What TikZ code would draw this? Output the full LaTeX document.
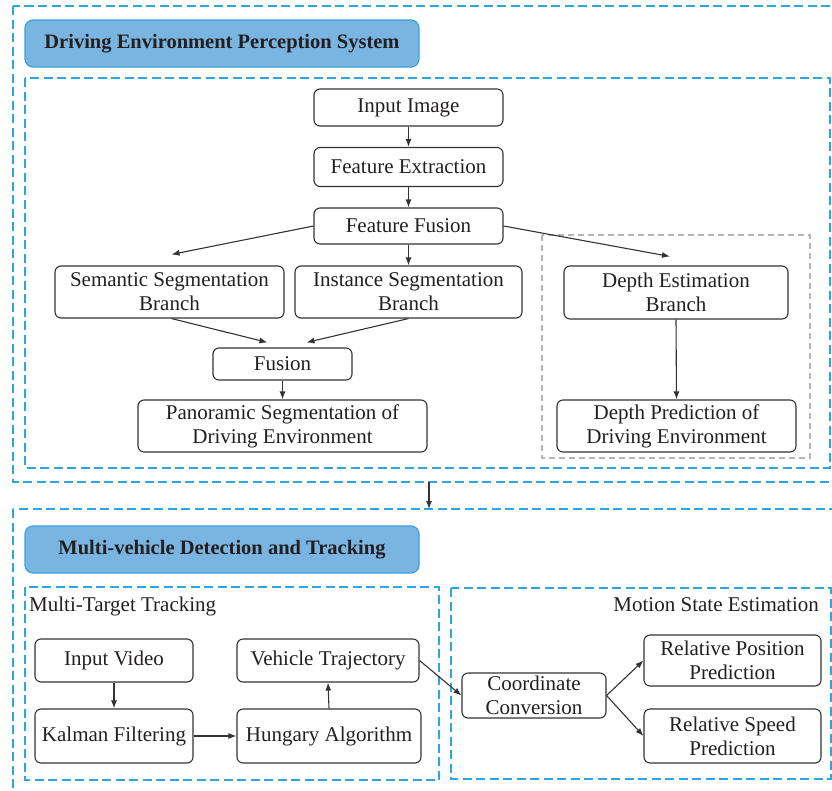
\documentclass[tikz,border=0pt]{standalone}
\usepackage{fontspec}
\setmainfont{Liberation Serif}
\usetikzlibrary{arrows.meta,positioning}
\definecolor{framecyan}{HTML}{2BA6E1}
\definecolor{titlefill}{HTML}{7AB5E2}
\definecolor{titleedge}{HTML}{3AA0DC}
\definecolor{boxedge}{HTML}{333333}
\definecolor{inktext}{HTML}{231F20}
\definecolor{graydash}{HTML}{B5B5B5}
\tikzset{
      procbox/.style={
        rounded corners=6pt,
        draw=boxedge,
        line width=1.1pt,
        align=center,
        inner sep=0pt,
        text=inktext,
        font=\fontsize{21}{24}\selectfont
      },
      titlebox/.style={
        rounded corners=8pt,
        draw=titleedge,
        line width=1.2pt,
        fill=titlefill,
        minimum width=394pt,
        minimum height=47pt,
        inner sep=0pt,
        text=inktext,
        font=\fontsize{20.5}{24}\selectfont\bfseries
      },
      regionbox/.style={
        draw=framecyan,
        line width=1.3pt,
        dash pattern=on 9pt off 4.5pt
      },
      depthbox/.style={
        draw=graydash,
        line width=1.1pt,
        dash pattern=on 6pt off 4pt
      },
      regionlabel/.style={
        inner sep=0pt,
        text=inktext,
        font=\fontsize{21}{24}\selectfont
      },
      arr/.style={
        -{Latex[length=8pt,width=6pt]},
        line width=1.1pt,
        draw=boxedge
      }
    }

\begin{document}
\begin{tikzpicture}[x=1pt,y=-1pt]
    \useasboundingbox (0,0) rectangle (832,790);
    \begin{scope}
    \clip (0,0) rectangle (832,790);
    \draw[regionbox] (13,6) rectangle (850,482);
    \draw[regionbox] (25,78) rectangle (830,468);
    \draw[regionbox] (13,509) rectangle (850,800);
    \draw[regionbox] (25,587) rectangle (439,780);
    \draw[regionbox] (451,588) rectangle (831,779);
    \draw[depthbox] (542,235) rectangle (810,458);
    \end{scope}

    \node[titlebox] (t1) at (222,43.5) {Driving Environment Perception System};
    \node[titlebox] (t2) at (222,549.5) {Multi-vehicle Detection and Tracking};

    \node[procbox, minimum width=189pt, minimum height=37pt] (img) at (408.5,107.5) {Input Image};
    \node[procbox, minimum width=189pt, minimum height=39pt] (fe) at (408.5,167) {Feature Extraction};
    \node[procbox, minimum width=189pt, minimum height=36pt] (ff) at (408.5,226) {Feature Fusion};
    \node[procbox, minimum width=229pt, minimum height=52pt] (sem) at (169.5,292) {Semantic Segmentation\\Branch};
    \node[procbox, minimum width=227pt, minimum height=52pt] (ins) at (408.5,292) {Instance Segmentation\\Branch};
    \node[procbox, minimum width=224pt, minimum height=53pt] (dep) at (676,292.5) {Depth Estimation\\Branch};
    \node[procbox, minimum width=139pt, minimum height=32pt] (fus) at (282.5,364) {Fusion};
    \node[procbox, minimum width=289pt, minimum height=52pt] (pan) at (282.5,426) {Panoramic Segmentation of\\Driving Environment};
    \node[procbox, minimum width=239pt, minimum height=52pt] (dpr) at (676.5,426) {Depth Prediction of\\Driving Environment};

    \node[regionlabel, anchor=west] (mtt) at (29,606) {Multi-Target Tracking};
    \node[regionlabel, anchor=east] (mse) at (819,605) {Motion State Estimation};

    \node[procbox, minimum width=158pt, minimum height=43pt] (vid) at (114,660.5) {Input Video};
    \node[procbox, minimum width=158pt, minimum height=54pt] (kal) at (114,736) {Kalman Filtering};
    \node[procbox, minimum width=182pt, minimum height=43pt] (trj) at (328,660.5) {Vehicle Trajectory};
    \node[procbox, minimum width=184pt, minimum height=54pt] (hun) at (329,736) {Hungary Algorithm};
    \node[procbox, minimum width=144pt, minimum height=45pt] (coc) at (534,695.5) {Coordinate\\Conversion};
    \node[procbox, minimum width=177pt, minimum height=51pt] (rpp) at (732.5,660.5) {Relative Position\\Prediction};
    \node[procbox, minimum width=177pt, minimum height=54pt] (rsp) at (732.5,736) {Relative Speed\\Prediction};

    \coordinate (sec1) at (429,482);
    \coordinate (sec2) at (429,509);

    \draw[arr] (img.south) -- (fe.north);
    \draw[arr] (fe.south) -- (ff.north);
    \draw[arr] (ff.west) -- ([xshift=2pt,yshift=11pt]sem.north);
    \draw[arr] (ff.south) -- (ins.north);
    \draw[arr] (ff.east) -- ([xshift=-6pt,yshift=9pt]dep.north);
    \draw[arr] ([xshift=2pt]sem.south) -- ([xshift=-15pt,yshift=5pt]fus.north);
    \draw[arr] (ins.south) -- ([xshift=24pt,yshift=5pt]fus.north);
    \draw[arr] (fus.south) -- (pan.north);
    \draw[arr] (dep.south) -- (dpr.north);
    \draw[arr] (sec1) -- (sec2);
    \draw[arr] (vid.south) -- (kal.north);
    \draw[arr] (kal.east) -- (hun.west);
    \draw[arr] (hun.north) -- (trj.south);
    \draw[arr] (trj.east) -- (coc.west);
    \draw[arr] (coc.east) -- (rpp.west);
    \draw[arr] (coc.east) -- (rsp.west);
    \end{tikzpicture}
\end{document}
